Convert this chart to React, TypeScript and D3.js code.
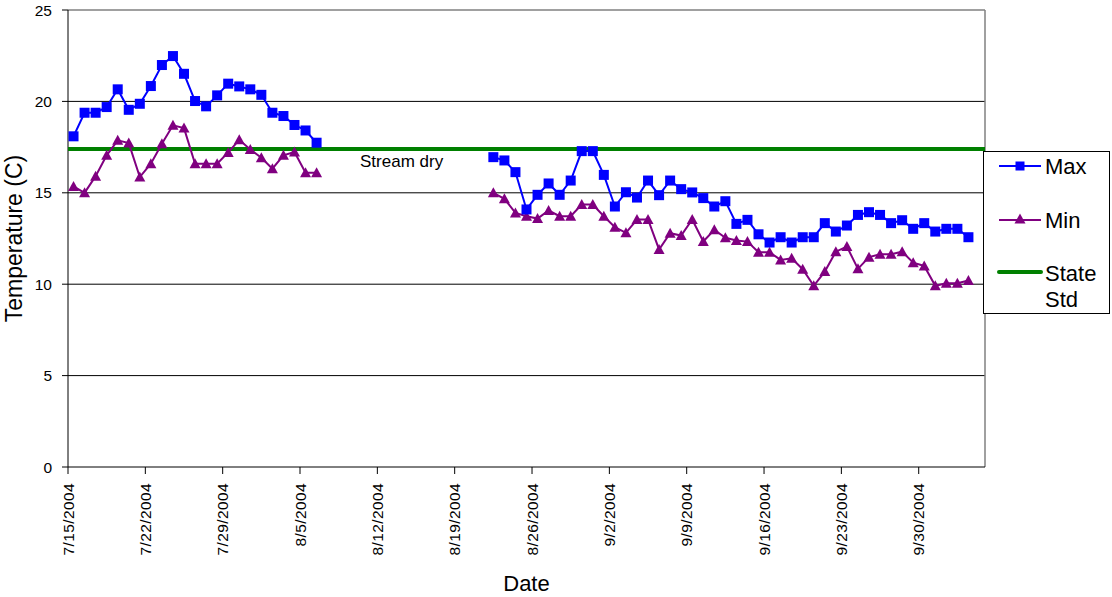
import React from "react";
import * as d3 from "d3";

// ---- Data ----
const seg1Start = "2004-07-15";
const seg2Start = "2004-08-22";
const max1 = [18.09, 19.38, 19.38, 19.69, 20.66, 19.54, 19.87, 20.84, 21.99, 22.48, 21.51, 20.02, 19.73, 20.33, 20.97, 20.82, 20.66, 20.36, 19.38, 19.2, 18.71, 18.41, 17.74];
const min1 = [15.35, 15.0, 15.91, 17.05, 17.87, 17.72, 15.86, 16.59, 17.68, 18.69, 18.54, 16.59, 16.59, 16.59, 17.21, 17.9, 17.37, 16.92, 16.32, 17.05, 17.23, 16.1, 16.1];
const max2 = [16.95, 16.77, 16.13, 14.09, 14.89, 15.51, 14.89, 15.67, 17.28, 17.28, 15.98, 14.25, 15.03, 14.74, 15.67, 14.87, 15.67, 15.2, 15.02, 14.71, 14.25, 14.54, 13.3,
  13.52, 12.73, 12.28, 12.57, 12.28, 12.57, 12.57, 13.34, 12.88, 13.21, 13.79, 13.94, 13.79, 13.34, 13.5, 13.03, 13.34, 12.88, 13.03, 13.03, 12.57];
const min2 = [15.0, 14.67, 13.9, 13.72, 13.59, 14.03, 13.72, 13.72, 14.36, 14.36, 13.72, 13.12, 12.81, 13.54, 13.54, 11.9, 12.79, 12.66, 13.54, 12.34, 12.98, 12.54, 12.39,
  12.33, 11.75, 11.75, 11.33, 11.42, 10.82, 9.91, 10.69, 11.78, 12.06, 10.84, 11.48, 11.64, 11.64, 11.78, 11.18, 11.0, 9.91, 10.05, 10.05, 10.2];
const stateStd = 17.4;
const xTickLabels = ["7/15/2004", "7/22/2004", "7/29/2004", "8/5/2004", "8/12/2004", "8/19/2004", "8/26/2004", "9/2/2004", "9/9/2004", "9/16/2004", "9/23/2004", "9/30/2004"];
const yTicks = [0, 5, 10, 15, 20, 25];
const axisStart = "2004-07-15";
const axisEnd = "2004-10-06";

const W = 1112, H = 597;
const M = { left: 68, right: 985, top: 10, bottom: 467 };
const FONT = "'Liberation Sans', Arial, sans-serif";

const parse = (s: string) => new Date(s + "T00:00:00Z");
const parseLabel = (s: string) => {
  const [m, d, y] = s.split("/").map(Number);
  return new Date(Date.UTC(y, m - 1, d));
};

function series(start: string, vals: number[]) {
  const s = parse(start);
  return vals.map((v, i) => ({ date: d3.utcHour.offset(d3.utcDay.offset(s, i), 12), v }));
}

export default function App() {
  const x = d3.scaleUtc().domain([parse(axisStart), parse(axisEnd)]).range([M.left, M.right]);
  const y = d3.scaleLinear().domain([0, 25]).range([M.bottom, M.top]);
  const line = d3.line<{ date: Date; v: number }>().x(d => x(d.date)).y(d => y(d.v));

  const maxSegs = [series(seg1Start, max1), series(seg2Start, max2)];
  const minSegs = [series(seg1Start, min1), series(seg2Start, min2)];

  const sq = 10;
  const tri = (cx: number, cy: number, s = 10) =>
    `M${cx},${cy - s * 0.55} L${cx + s * 0.55},${cy + s * 0.45} L${cx - s * 0.55},${cy + s * 0.45} Z`;

  return (
    <svg width={W} height={H} style={{ position: "absolute", left: 0, top: 0, background: "#fff" }} fontFamily={FONT}>
      <rect x={0} y={0} width={W} height={H} fill="#fff" />
      {/* gridlines */}
      {yTicks.filter(t => t > 0 && t < 25).map(t => (
        <line key={t} x1={M.left} x2={M.right} y1={y(t)} y2={y(t)} stroke="#000" strokeWidth={1} />
      ))}
      {/* plot border top/right */}
      <line x1={M.left} x2={M.right} y1={M.top} y2={M.top} stroke="#808080" strokeWidth={1.5} />
      <line x1={M.right} x2={M.right} y1={M.top} y2={M.bottom} stroke="#808080" strokeWidth={1.5} />
      {/* axes */}
      <line x1={M.left} x2={M.left} y1={M.top} y2={M.bottom} stroke="#000" strokeWidth={1} />
      <line x1={M.left} x2={M.right} y1={M.bottom} y2={M.bottom} stroke="#000" strokeWidth={1} />
      {yTicks.map(t => (
        <g key={t}>
          <line x1={M.left - 6} x2={M.left} y1={y(t)} y2={y(t)} stroke="#000" />
          <text x={52} y={y(t)} textAnchor="end" dominantBaseline="central" fontSize={15.5} fill="#000">{t}</text>
        </g>
      ))}
      {xTickLabels.map(l => {
        const xx = x(parseLabel(l));
        return (
          <g key={l}>
            <line x1={xx} x2={xx} y1={M.bottom} y2={M.bottom + 7} stroke="#000" />
            <text transform={`translate(${xx},483) rotate(-90)`} textAnchor="end" dominantBaseline="central" fontSize={15.5} letterSpacing={0.4} fill="#000">{l}</text>
          </g>
        );
      })}
      {/* axis titles */}
      <text transform={`translate(22,${(M.top + M.bottom) / 2}) rotate(-90)`} textAnchor="middle" fontSize={23} fill="#000">Temperature (C)</text>
      <text x={(M.left + M.right) / 2} y={591} textAnchor="middle" fontSize={22} fill="#000">Date</text>

      {/* state std */}
      <line x1={M.left} x2={M.right} y1={y(stateStd)} y2={y(stateStd)} stroke="#008000" strokeWidth={4} />
      <text x={360} y={167} fontSize={17} fill="#000">Stream dry</text>

      {/* min series */}
      {minSegs.map((s, i) => (
        <path key={"minl" + i} d={line(s) || ""} fill="none" stroke="#800080" strokeWidth={2} />
      ))}
      {minSegs.flat().map((d, i) => (
        <path key={"minm" + i} d={tri(x(d.date), y(d.v))} fill="#800080" />
      ))}
      {/* max series */}
      {maxSegs.map((s, i) => (
        <path key={"maxl" + i} d={line(s) || ""} fill="none" stroke="#0000FF" strokeWidth={2} />
      ))}
      {maxSegs.flat().map((d, i) => (
        <rect key={"maxm" + i} x={x(d.date) - sq / 2} y={y(d.v) - sq / 2} width={sq} height={sq} fill="#0000FF" />
      ))}

      {/* legend */}
      <rect x={983.5} y={151.5} width={126} height={162} fill="#fff" stroke="#000" strokeWidth={1} />
      <line x1={999} x2={1041} y1={166} y2={166} stroke="#0000FF" strokeWidth={2} />
      <rect x={1020 - 4.5} y={166 - 4.5} width={9} height={9} fill="#0000FF" />
      <text x={1045} y={174} fontSize={22} fill="#000">Max</text>
      <line x1={999} x2={1041} y1={220} y2={220} stroke="#800080" strokeWidth={2} />
      <path d={tri(1020, 219, 10)} fill="#800080" />
      <text x={1045} y={228} fontSize={22} fill="#000">Min</text>
      <line x1={999} x2={1041} y1={272} y2={272} stroke="#008000" strokeWidth={4} strokeLinecap="round" />
      <text x={1045} y={281} fontSize={22} fill="#000">State</text>
      <text x={1045} y={307} fontSize={22} fill="#000">Std</text>
    </svg>
  );
}
